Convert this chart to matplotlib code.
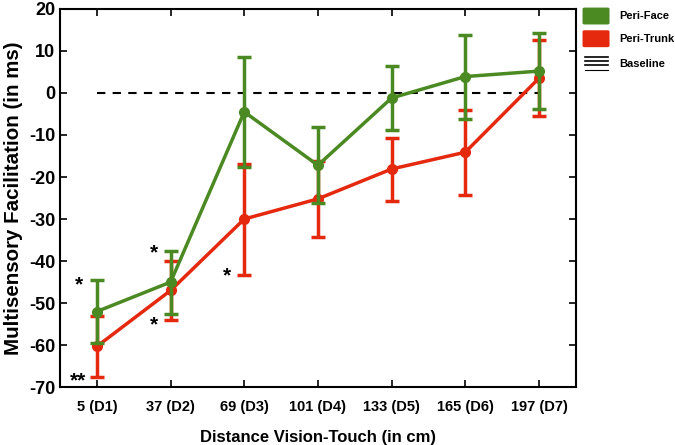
import matplotlib

matplotlib.use("Agg")
import matplotlib.pyplot as plt
from matplotlib.patches import FancyBboxPatch

plt.rcParams["font.family"] = ["Liberation Sans", "DejaVu Sans"]
plt.rcParams["font.weight"] = "bold"
plt.rcParams["axes.unicode_minus"] = False

# distances (cm) and block labels
distances = ["5 (D1)", "37 (D2)", "69 (D3)", "101 (D4)", "133 (D5)", "165 (D6)", "197 (D7)"]

# multisensory facilitation (ms) and error (ms)
face_mean = [-52, -45, -4.5, -17.2, -1.2, 3.9, 5.2]
face_err = [7.5, 7.5, 13.0, 9.0, 7.5, 10.0, 9.0]
trunk_mean = [-60.3, -47, -30, -25.2, -18.1, -14.1, 3.5]
trunk_err = [7.2, 7.0, 13.2, 9.0, 7.5, 10.1, 9.0]

# significance stars: (x index, y value, text)
stars_x = [0.76, 0.74, 1.77, 1.77, 2.77]
stars_y = [-45.7, -68.6, -38.1, -55.3, -43.6]
stars_txt = ["*", "**", "*", "*", "*"]

GREEN = "#4b8a22"
RED = "#e4290f"

fig = plt.figure(figsize=(6.75, 4.45), dpi=100)
ax = fig.add_axes([0.089, 0.130, 0.764, 0.850])

xs = list(range(1, len(distances) + 1))

ax.plot([xs[0], xs[-1]], [0, 0], color="black", linestyle=(0, (4, 3.5)), lw=1.5, zorder=1)

ax.errorbar(xs, trunk_mean, yerr=trunk_err, color=RED, lw=2.5, marker="o", ms=7,
            capsize=5, capthick=2.5, elinewidth=2.5, zorder=2)
ax.errorbar(xs, face_mean, yerr=face_err, color=GREEN, lw=2.5, marker="o", ms=7,
            capsize=5, capthick=2.5, elinewidth=2.5, zorder=3)

for x, y, t in zip(stars_x, stars_y, stars_txt):
    ax.text(x, y, t, fontsize=15, ha="center", va="center", color="black")

ax.set_xlim(0.5, 7.5)
ax.set_ylim(-70, 20)
ax.set_xticks(xs)
ax.set_xticklabels(distances, fontsize=10.5, fontweight="bold")
ax.set_yticks(range(-70, 21, 10))
ax.tick_params(axis="y", labelsize=13, direction="in", right=True, length=5, width=1.2)
ax.tick_params(axis="x", direction="in", top=True, length=5, width=1.2, pad=9)
for lab in ax.get_yticklabels():
    lab.set_fontweight("bold")
for sp in ax.spines.values():
    sp.set_linewidth(1.5)

ax.set_ylabel("Multisensory Facilitation (in ms)", fontsize=14.8, fontweight="bold", labelpad=4)
ax.set_xlabel("Distance Vision-Touch (in cm)", fontsize=12, fontweight="bold", labelpad=12)

# legend drawn at figure level
for i, (c, lbl) in enumerate([(GREEN, "Peri-Face"), (RED, "Peri-Trunk")]):
    yc = 0.964 - i * 0.051
    fig.add_artist(FancyBboxPatch((0.866, yc - 0.016), 0.034, 0.032,
                                  boxstyle="round,pad=0.003", facecolor=c,
                                  edgecolor="none", transform=fig.transFigure))
    fig.text(0.918, yc, lbl, fontsize=8, fontweight="bold", va="center")
for k, yy in enumerate([0.872, 0.863, 0.854, 0.843]):
    fig.add_artist(plt.Line2D([0.867, 0.901], [yy, yy], color="black",
                              lw=1.2 if k < 3 else 0.8, transform=fig.transFigure))
fig.text(0.917, 0.856, "Baseline", fontsize=8, fontweight="bold", va="center")

fig.savefig("out.png", dpi=100)
